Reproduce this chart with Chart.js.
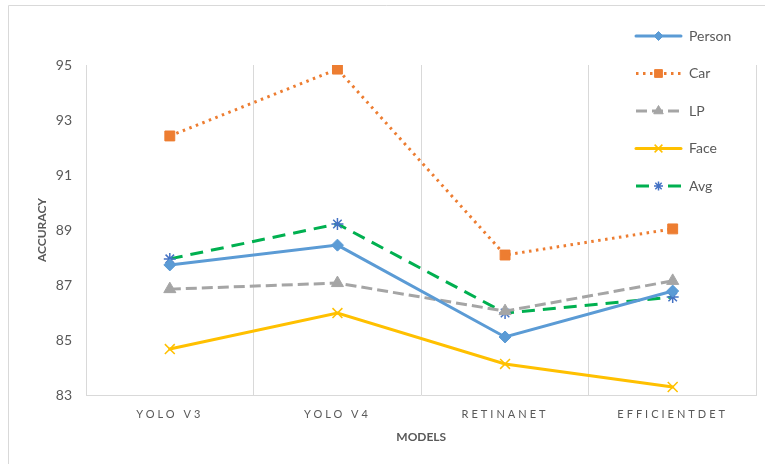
<!DOCTYPE html>
<html>
<head>
<meta charset="utf-8">
<script src="https://cdn.jsdelivr.net/npm/chart.js@4.4.1/dist/chart.umd.min.js"></script>
<style>
  html, body { margin: 0; padding: 0; background: #ffffff; }
  #wrap { width: 765px; height: 466px; position: relative; }
</style>
</head>
<body>
<div id="wrap"><canvas id="chart" width="765" height="466"></canvas></div>
<script>
// Detection accuracy per model and object class
const models = ['YOLO V3', 'YOLO V4', 'RETINANET', 'EFFICIENTDET'];
const person = [87.73, 88.45, 85.11, 86.78];
const car    = [92.42, 94.85, 88.09, 89.04];
const lp     = [86.85, 87.07, 86.05, 87.15];
const face   = [84.67, 85.98, 84.13, 83.29];
const avg    = [87.95, 89.22, 85.98, 86.56];
const yTicks = [83, 85, 87, 89, 91, 93, 95];

const FONT = 'Lato, "Noto Sans", "Liberation Sans", sans-serif';
const TEXT = '#595959';
const GRID = '#d9d9d9';

const seriesDefs = [
  { label: 'Person', data: person, color: '#5B9BD5', markColor: '#5B9BD5', dash: [], cap: 'round', point: 'rectRot', radius: 6 },
  { label: 'Car',    data: car,    color: '#ED7D31', markColor: '#ED7D31', dash: [2.5, 4.5], cap: 'butt', point: 'rect', radius: 7 },
  { label: 'LP',     data: lp,     color: '#A5A5A5', markColor: '#A5A5A5', dash: [11, 5], cap: 'butt', point: 'triangle', radius: 7 },
  { label: 'Face',   data: face,   color: '#FFC000', markColor: '#FFC000', dash: [], cap: 'round', point: 'crossRot', radius: 7 },
  { label: 'Avg',    data: avg,    color: '#00B050', markColor: '#4472C4', dash: [13, 8], cap: 'butt', point: 'star', radius: 6 }
];

const datasets = seriesDefs.map(s => ({
  label: s.label,
  data: s.data,
  borderColor: s.color,
  backgroundColor: s.markColor,
  borderWidth: 3,
  borderDash: s.dash,
  borderCapStyle: s.cap,
  tension: 0,
  fill: false,
  pointStyle: s.point,
  pointRadius: s.radius,
  pointBackgroundColor: s.markColor,
  pointBorderColor: s.markColor,
  pointBorderWidth: (s.point === 'crossRot' || s.point === 'star') ? 1.5 : 1
}));

// Outer frame (left and top edges)
const framePlugin = {
  id: 'frame',
  beforeDraw(chart) {
    const ctx = chart.ctx;
    ctx.save();
    ctx.strokeStyle = GRID;
    ctx.lineWidth = 1;
    ctx.beginPath();
    ctx.moveTo(8.5, 464);
    ctx.lineTo(8.5, 5.5);
    ctx.lineTo(765, 5.5);
    ctx.stroke();
    ctx.restore();
  }
};

// Legend drawn at the top right, over the plot
const legendPlugin = {
  id: 'sideLegend',
  afterDraw(chart) {
    const ctx = chart.ctx;
    const x0 = 636, x1 = 681, tx = 689;
    const y0 = 36, step = 37.5;
    chart.data.datasets.forEach((ds, i) => {
      const y = y0 + i * step;
      ctx.save();
      ctx.fillStyle = '#ffffff';
      ctx.fillRect(x0 - 4, y - 10, 120, 20);
      ctx.strokeStyle = ds.borderColor;
      ctx.lineWidth = 3;
      ctx.setLineDash(ds.borderDash);
      ctx.lineCap = ds.borderCapStyle;
      ctx.beginPath();
      if (ds.label === 'Avg') {
        ctx.moveTo(x0, y); ctx.lineTo(x0 + 13, y);
        ctx.moveTo(x1 - 13, y); ctx.lineTo(x1, y);
      } else {
        ctx.moveTo(x0, y);
        ctx.lineTo(x1, y);
      }
      ctx.stroke();
      ctx.setLineDash([]);
      ctx.lineCap = 'butt';
      ctx.fillStyle = ds.pointBackgroundColor;
      ctx.strokeStyle = ds.pointBorderColor;
      ctx.lineWidth = ds.pointBorderWidth;
      Chart.helpers.drawPoint(ctx, {
        pointStyle: ds.pointStyle,
        radius: ds.pointRadius - 1.5,
        rotation: 0,
        borderWidth: ds.pointBorderWidth
      }, (x0 + x1) / 2, y);
      ctx.fillStyle = TEXT;
      ctx.font = '14px ' + FONT;
      ctx.textBaseline = 'middle';
      ctx.textAlign = 'left';
      ctx.fillText(ds.label, tx, y);
      ctx.restore();
    });
  }
};

// Letter-spaced category labels on the x axis
const spacedLabels = {
  id: 'spacedLabels',
  afterLayout(chart) {
    const s = chart.scales.x;
    if (s && !s.__spaced) {
      const orig = s.drawLabels.bind(s);
      s.drawLabels = function (area) {
        const ctx = this.ctx;
        const prev = ctx.letterSpacing;
        ctx.letterSpacing = '3px';
        orig(area);
        ctx.letterSpacing = prev || '0px';
      };
      s.__spaced = true;
    }
  }
};

const chart = new Chart(document.getElementById('chart'), {
  type: 'line',
  data: { labels: models, datasets },
  options: {
    responsive: false,
    animation: false,
    devicePixelRatio: 1,
    layout: { padding: { left: 8, top: 65, right: 8, bottom: 0 } },
    plugins: {
      legend: { display: false },
      tooltip: { enabled: false }
    },
    scales: {
      x: {
        offset: true,
        grid: { offset: true, color: GRID, lineWidth: 1, drawTicks: false },
        border: { display: true, color: GRID, width: 1 },
        ticks: {
          color: TEXT,
          font: { family: FONT, size: 11 },
          padding: 13,
          maxRotation: 0,
          autoSkip: false
        },
        title: {
          display: true,
          text: 'MODELS',
          color: TEXT,
          font: { family: FONT, size: 12, weight: 'bold' },
          padding: { top: 0, bottom: 22 }
        },
        afterFit(scale) { scale.height = 71; }
      },
      y: {
        min: 83,
        max: 95,
        afterBuildTicks(scale) { scale.ticks = yTicks.map(v => ({ value: v })); },
        grid: { display: false, drawTicks: false },
        border: { display: true, color: GRID, width: 1 },
        ticks: {
          color: TEXT,
          font: { family: FONT, size: 14 },
          padding: 14
        },
        title: {
          display: true,
          text: 'ACCURACY',
          color: TEXT,
          font: { family: FONT, size: 12, weight: 'bold' },
          padding: { top: 27, bottom: 0 }
        },
        afterFit(scale) { scale.width = 78; }
      }
    }
  },
  plugins: [framePlugin, spacedLabels, legendPlugin]
});
</script>
</body>
</html>
